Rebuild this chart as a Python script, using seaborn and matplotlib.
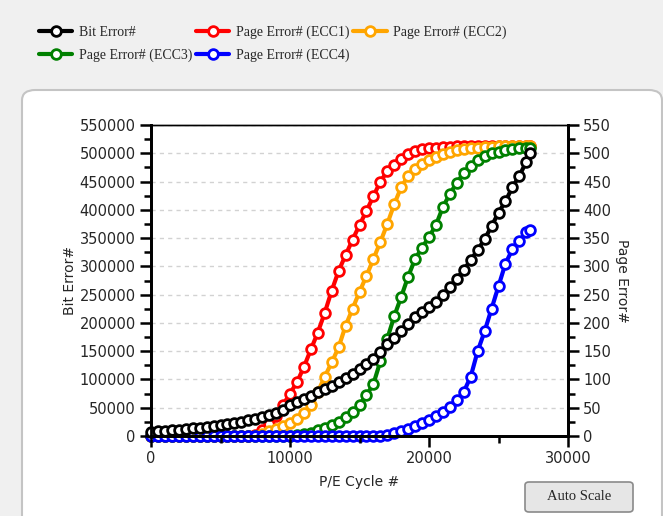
import numpy as np
import pandas as pd
import matplotlib
matplotlib.use("Agg")
import matplotlib.pyplot as plt
from matplotlib.lines import Line2D
from matplotlib.patches import FancyBboxPatch
from matplotlib.ticker import MultipleLocator
import seaborn as sns

# P/E cycle sample points
cycles = [0, 500, 1000, 1500, 2000, 2500, 3000, 3500, 4000, 4500,
          5000, 5500, 6000, 6500, 7000, 7500, 8000, 8500, 9000, 9500,
          10000, 10500, 11000, 11500, 12000, 12500, 13000, 13500, 14000, 14500,
          15000, 15500, 16000, 16500, 17000, 17500, 18000, 18500, 19000, 19500,
          20000, 20500, 21000, 21500, 22000, 22500, 23000, 23500, 24000, 24500,
          25000, 25500, 26000, 26500, 27000, 27300]

# left axis
bit_error = [7000, 8000, 9000, 10000, 11000, 12500, 13500, 15000, 16000, 17500,
             19000, 21000, 23000, 25000, 27500, 30000, 33000, 37000, 41000, 46000,
             55000, 60000, 65000, 71000, 77000, 83000, 89000, 96000, 103000, 110000,
             118000, 127000, 137000, 149000, 162000, 174000, 186000, 198000, 210000, 220000,
             228000, 237000, 250000, 263000, 278000, 294000, 311000, 329000, 348000, 371000,
             395000, 415000, 440000, 460000, 485000, 500000]

# right axis
ecc1 = [0, 0, 0, 0, 0, 0, 0, 0, 0, 0,
        0, 0, 0, 0, 0, 2, 10, 22, 35, 55,
        75, 95, 122, 153, 183, 218, 257, 292, 320, 347,
        373, 398, 424, 450, 468, 480, 490, 498, 504, 507,
        509, 510, 511, 511, 512, 512, 512, 512, 512, 512,
        512, 512, 512, 512, 512, 512]
ecc2 = [0, 0, 0, 0, 0, 0, 0, 0, 0, 0,
        0, 0, 0, 0, 0, 0, 3, 8, 13, 18,
        23, 30, 40, 55, 78, 105, 130, 157, 195, 225,
        255, 283, 313, 343, 375, 410, 440, 460, 472, 481,
        488, 494, 498, 502, 505, 507, 509, 510, 511, 511,
        512, 512, 512, 512, 512, 512]
ecc3 = [0, 0, 0, 0, 0, 0, 0, 0, 0, 0,
        0, 0, 0, 0, 0, 0, 0, 0, 0, 0,
        0, 2, 4, 6, 10, 14, 19, 25, 33, 42,
        55, 72, 92, 132, 172, 212, 246, 282, 313, 333,
        352, 373, 405, 428, 448, 465, 478, 488, 495, 500,
        503, 506, 508, 509, 510, 510]
ecc4 = [0, 0, 0, 0, 0, 0, 0, 0, 0, 0,
        0, 0, 0, 0, 0, 0, 0, 0, 0, 0,
        0, 0, 0, 0, 0, 0, 0, 0, 0, 0,
        0, 0, 0, 0, 2, 5, 9, 13, 18, 23,
        28, 35, 43, 52, 63, 78, 105, 150, 185, 225,
        265, 305, 330, 345, 360, 365]

page_labels = ["Page Error# (ECC1)", "Page Error# (ECC2)", "Page Error# (ECC3)", "Page Error# (ECC4)"]
page_colors = ["#ff0000", "#ffa500", "#008000", "#0000ff"]

bit_df = pd.DataFrame({"cycle": cycles, "value": bit_error})
page_df = pd.concat([
    pd.DataFrame({"cycle": cycles, "value": v, "series": lab})
    for v, lab in zip([ecc1, ecc2, ecc3, ecc4], page_labels)
])

sns.set_style("white")
plt.rcParams["font.family"] = ["DejaVu Sans"]

fig = plt.figure(figsize=(6.63, 5.16), dpi=100, facecolor="#f0f0f0")

# white rounded panel behind the chart
panel = FancyBboxPatch((22 / 663, -0.05), 640 / 663, (516 - 90) / 516 + 0.05,
                       boxstyle="round,pad=0,rounding_size=0.02",
                       transform=fig.transFigure, facecolor="white",
                       edgecolor="#c4c4c4", linewidth=1.5, zorder=-5)
fig.patches.append(panel)

ax = fig.add_axes([151 / 663, (516 - 436) / 516, 417 / 663, 311 / 516])
ax2 = ax.twinx()

mk = dict(marker="o", markersize=7, markerfacecolor="white", markeredgewidth=2,
          linewidth=3, clip_on=False)

sns.lineplot(data=page_df, x="cycle", y="value", hue="series", hue_order=page_labels,
             palette=page_colors, ax=ax2, legend=False, **mk)
for line, c in zip(ax2.lines, page_colors):
    line.set_markeredgecolor(c)
sns.lineplot(data=bit_df, x="cycle", y="value", color="black", ax=ax, legend=False,
             markeredgecolor="black", **mk)

ax2.set_zorder(1)
ax.set_zorder(2)
ax.patch.set_visible(False)
ax2.patch.set_visible(True)
ax2.patch.set_facecolor("white")

ax.set_xlim(0, 30000)
ax.set_ylim(0, 550000)
ax2.set_ylim(0, 550)
ax.xaxis.set_major_locator(MultipleLocator(10000))
ax.xaxis.set_minor_locator(MultipleLocator(5000))
ax.yaxis.set_major_locator(MultipleLocator(50000))
ax.yaxis.set_minor_locator(MultipleLocator(25000))
ax2.yaxis.set_major_locator(MultipleLocator(50))
ax2.yaxis.set_minor_locator(MultipleLocator(25))

# grid drawn on the lower axes so curves sit over it
ax2.xaxis.set_major_locator(MultipleLocator(10000))
ax2.grid(True, which="major", color="#d2d2d2", linestyle=(0, (3, 3)), linewidth=1)
ax2.set_axisbelow(True)
ax.grid(False)

for a in (ax, ax2):
    a.tick_params(which="major", direction="out", length=8, width=1.8, color="black",
                  labelsize=10.5, pad=3)
    a.tick_params(which="minor", direction="out", length=5, width=1.8, color="black")
    for s in ("left", "right", "bottom"):
        a.spines[s].set_linewidth(2)
        a.spines[s].set_color("black")
    a.spines["top"].set_linewidth(1)
    a.spines["top"].set_color("black")
ax.tick_params(axis="x", which="both", bottom=True)
ax.tick_params(axis="y", which="both", left=True)
ax2.tick_params(axis="y", which="both", right=True)

ax.set_xlabel("P/E Cycle #", fontsize=10, labelpad=6)
ax.set_ylabel("Bit Error#", fontsize=10, labelpad=2)
ax2.set_ylabel("Page Error#", fontsize=10, rotation=-90, labelpad=13)

# legend at top
serif = ["Liberation Serif", "DejaVu Serif"]
def handle(c):
    return Line2D([], [], color=c, linewidth=3, marker="o", markersize=7,
                  markerfacecolor="white", markeredgecolor=c, markeredgewidth=2)
handles = [handle("black"), handle(page_colors[2]), handle(page_colors[0]),
           handle(page_colors[3]), handle(page_colors[1])]
labels = ["Bit Error#", page_labels[2], page_labels[0], page_labels[3], page_labels[1]]
fig.legend(handles, labels, ncol=3, loc="upper left",
           bbox_to_anchor=(39 / 663, 1 - 26 / 516), frameon=False,
           prop={"family": serif, "size": 10}, handlelength=2.4, handletextpad=0.45,
           columnspacing=0.3, labelspacing=0.65, borderaxespad=0, borderpad=0)

# Auto Scale button
btn = FancyBboxPatch((525 / 663, (516 - 512) / 516), 108 / 663, 30 / 516,
                     boxstyle="round,pad=0,rounding_size=0.006",
                     transform=fig.transFigure, facecolor="#e6e6e6",
                     edgecolor="#8a8a8a", linewidth=1.2, zorder=1)
fig.patches.append(btn)
fig.text(579 / 663, 1 - 497 / 516, "Auto Scale", ha="center", va="center",
         fontsize=10.5, family=serif)

fig.savefig("out.png", dpi=100, facecolor=fig.get_facecolor())
